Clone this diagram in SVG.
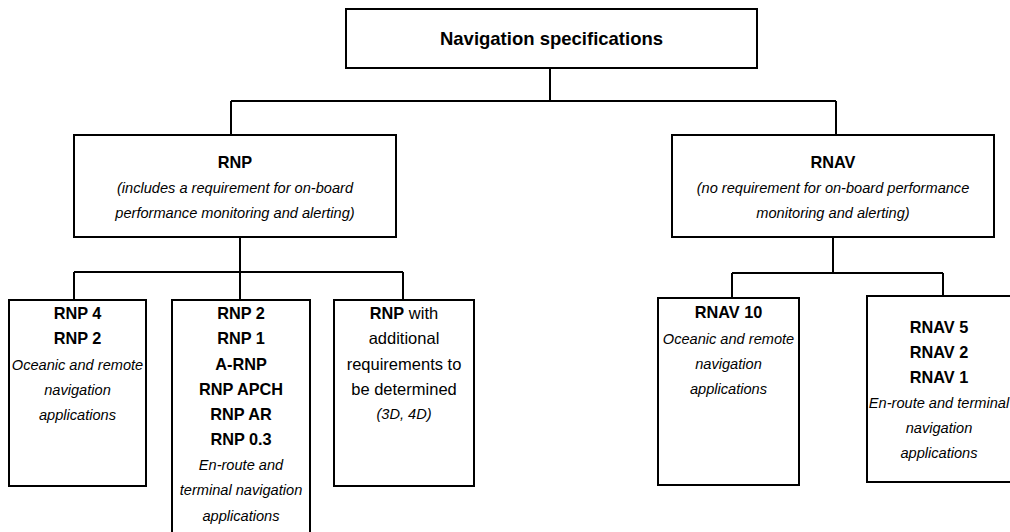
<svg xmlns="http://www.w3.org/2000/svg" width="1010" height="532" viewBox="0 0 1010 532">
<style>
.box{fill:#fff;stroke:#000;stroke-width:2}
.ln{fill:none;stroke:#000;stroke-width:2}
text{font-family:"Liberation Sans",Arial,sans-serif;fill:#000;text-anchor:middle}
.t{font-size:18.5px;font-weight:bold}
.b{font-size:16.3px;font-weight:bold}
.r{font-size:16.5px}
.i{font-size:14.6px;font-style:italic}
</style>
<rect width="1010" height="532" fill="#fff"/>
<g id="connectors">
<path class="ln" d="M550,68V101M231,101H836M231,101V135M836,101V135"/>
<path class="ln" d="M240,237V272M74,272H403M74,272V300M240,272V300M403,272V300"/>
<path class="ln" d="M833,237V273M732,273H943M732,273V298M943,273V296"/>
</g>
<g id="nav-spec">
<rect class="box" x="346" y="9" width="411" height="59"/>
<text class="t" x="551.5" y="45">Navigation specifications</text>
</g>
<g id="rnp">
<rect class="box" x="74" y="135" width="322" height="102"/>
<text class="b" x="235" y="168">RNP</text>
<text class="i" x="235" y="193">(includes a requirement for on-board</text>
<text class="i" x="235" y="218">performance monitoring and alerting)</text>
</g>
<g id="rnav">
<rect class="box" x="672" y="135" width="322" height="102"/>
<text class="b" x="833" y="168">RNAV</text>
<text class="i" x="833" y="193">(no requirement for on-board performance</text>
<text class="i" x="833" y="218">monitoring and alerting)</text>
</g>
<g id="rnp4">
<rect class="box" x="9" y="300" width="137" height="186"/>
<text class="b" x="77.5" y="319">RNP 4</text>
<text class="b" x="77.5" y="344">RNP 2</text>
<text class="i" x="77.5" y="370">Oceanic and remote</text>
<text class="i" x="77.5" y="395">navigation</text>
<text class="i" x="77.5" y="420">applications</text>
</g>
<g id="rnp2">
<rect class="box" x="172" y="300" width="138" height="245"/>
<text class="b" x="241" y="319">RNP 2</text>
<text class="b" x="241" y="344">RNP 1</text>
<text class="b" x="241" y="370">A-RNP</text>
<text class="b" x="241" y="395">RNP APCH</text>
<text class="b" x="241" y="420">RNP AR</text>
<text class="b" x="241" y="445">RNP 0.3</text>
<text class="i" x="241" y="470">En-route and</text>
<text class="i" x="241" y="495">terminal navigation</text>
<text class="i" x="241" y="521">applications</text>
</g>
<g id="rnp-future">
<rect class="box" x="334" y="300" width="140" height="186"/>
<text x="404" y="319"><tspan class="b">RNP</tspan><tspan class="r"> with</tspan></text>
<text class="r" x="404" y="344">additional</text>
<text class="r" x="404" y="370">requirements to</text>
<text class="r" x="404" y="395">be determined</text>
<text class="i" x="404" y="419">(3D, 4D)</text>
</g>
<g id="rnav10">
<rect class="box" x="658" y="298" width="141" height="187"/>
<text class="b" x="728.5" y="318">RNAV 10</text>
<text class="i" x="728.5" y="344">Oceanic and remote</text>
<text class="i" x="728.5" y="369">navigation</text>
<text class="i" x="728.5" y="394">applications</text>
</g>
<g id="rnav5">
<rect class="box" x="867" y="296" width="145" height="186"/>
<text class="b" x="939" y="333">RNAV 5</text>
<text class="b" x="939" y="358">RNAV 2</text>
<text class="b" x="939" y="383">RNAV 1</text>
<text class="i" x="939" y="408">En-route and terminal</text>
<text class="i" x="939" y="433">navigation</text>
<text class="i" x="939" y="458">applications</text>
</g>
</svg>
